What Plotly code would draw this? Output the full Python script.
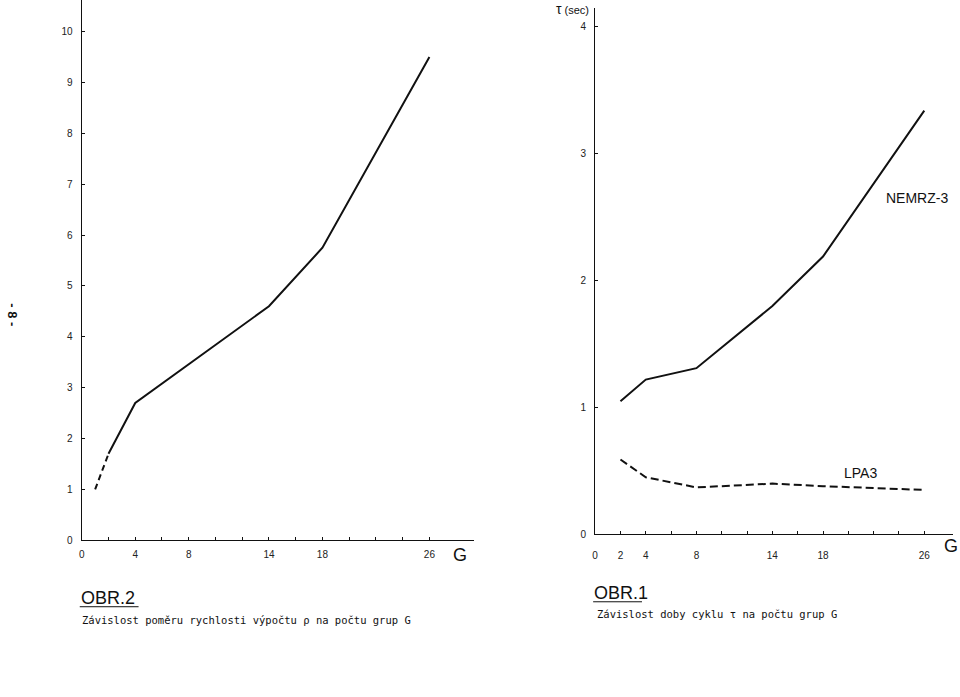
import plotly.graph_objects as go

# ---- data ----
# OBR.2 : ratio of computation speed vs number of groups G
g_ratio_dash = [1, 2]
ratio_dash = [1.0, 1.7]
g_ratio = [2, 4, 14, 18, 26]
ratio = [1.7, 2.7, 4.6, 5.75, 9.5]

# OBR.1 : cycle time tau (sec) vs number of groups G
g_cycle = [2, 4, 8, 14, 18, 26]
nemrz3 = [1.05, 1.22, 1.31, 1.80, 2.19, 3.34]
lpa3 = [0.59, 0.45, 0.37, 0.40, 0.38, 0.35]

x_tick_vals = list(range(0, 28, 2))
left_x_labels = {0: "0", 4: "4", 8: "8", 14: "14", 18: "18", 26: "26"}
right_x_labels = {0: "0", 2: "2", 4: "4", 8: "8", 14: "14", 18: "18", 26: "26"}
left_y_ticks = list(range(0, 11))
right_y_ticks = [0, 1, 2, 3, 4]

FONT = "Liberation Sans"
MONO = "DejaVu Sans Mono"
INK = "#111111"

fig = go.Figure()
fig.add_trace(go.Scatter(x=g_ratio_dash, y=ratio_dash, mode="lines",
                         line=dict(color=INK, width=2, dash="6px,4px"),
                         xaxis="x", yaxis="y", showlegend=False))
fig.add_trace(go.Scatter(x=g_ratio, y=ratio, mode="lines",
                         line=dict(color=INK, width=2),
                         xaxis="x", yaxis="y", showlegend=False))
fig.add_trace(go.Scatter(x=g_cycle, y=nemrz3, mode="lines",
                         line=dict(color=INK, width=2),
                         xaxis="x2", yaxis="y2", showlegend=False))
fig.add_trace(go.Scatter(x=g_cycle, y=lpa3, mode="lines",
                         line=dict(color=INK, width=2, dash="8px,4px"),
                         xaxis="x2", yaxis="y2", showlegend=False))

W, H = 960, 697

def px(x):
    return x / W

def py(y):
    return (H - y) / H

axis_common = dict(showgrid=False, zeroline=False, showline=True,
                   linecolor=INK, linewidth=1.3, ticks="inside", ticklen=3,
                   tickcolor=INK, tickfont=dict(family=FONT, size=10, color="#222"),
                   fixedrange=True)

fig.update_layout(
    width=W, height=H,
    margin=dict(l=0, r=0, t=0, b=0),
    paper_bgcolor="white", plot_bgcolor="white",
    font=dict(family=FONT, color=INK),
    xaxis=dict(domain=[px(79), px(472)], range=[0, 29.3], anchor="y",
               tickmode="array", tickvals=x_tick_vals,
               ticktext=[left_x_labels.get(v, "") for v in x_tick_vals],
               ticklabelstandoff=5, **axis_common),
    yaxis=dict(domain=[1 - 545 / H, 1.0], range=[0, 10.62], anchor="x",
               tickmode="array", tickvals=left_y_ticks,
               ticktext=[str(v) for v in left_y_ticks],
               ticklabelstandoff=6, **axis_common),
    xaxis2=dict(domain=[px(594), px(953)], range=[0, 28.27], anchor="y2",
                tickmode="array", tickvals=x_tick_vals,
                ticktext=[right_x_labels.get(v, "") for v in x_tick_vals],
                ticklabelstandoff=11, **axis_common),
    yaxis2=dict(domain=[1 - 539 / H, 1 - 8 / H], range=[0, 4.15], anchor="x2",
                tickmode="array", tickvals=right_y_ticks,
                ticktext=[str(v) for v in right_y_ticks],
                ticklabelstandoff=6, **axis_common),
)

def note(text, x, y, size, xanchor="center", yanchor="middle", xref="paper",
         yref="paper", family=FONT, **kw):
    return dict(text=text, xref=xref, yref=yref, x=x, y=y, xanchor=xanchor,
                yanchor=yanchor, showarrow=False,
                font=dict(family=family, size=size, color=INK), **kw)

ann = [
    note("NEMRZ-3", 25.4, 2.65, 14, xref="x2", yref="y2"),
    note("LPA3", 21.0, 0.48, 14, xref="x2", yref="y2"),
    note("G", px(458), py(560), 18),
    note("G", px(951), py(551), 18),
    note("<span style='font-size:14px'>τ</span> (sec)", px(589), 1.0, 11,
         xanchor="right", yanchor="top", borderpad=0),
    note("OBR.2", px(76), py(603), 18, xanchor="left"),
    note("Závislost poměru rychlosti výpočtu ρ na počtu grup G",
         px(77), py(625), 10.5, xanchor="left", family=MONO),
    note("OBR.1", px(591), py(598), 18, xanchor="left"),
    note("Závislost doby cyklu τ na počtu grup G",
         px(594), py(619), 10.5, xanchor="left", family=MONO),
    note("<b>- 8 -</b>", px(10), py(318), 13, textangle=90),
]
fig.update_layout(annotations=ann)

# underlines of the figure captions
fig.add_shape(type="line", xref="paper", yref="paper",
              x0=px(77), x1=px(136), y0=py(612), y1=py(612),
              line=dict(color=INK, width=1))
fig.add_shape(type="line", xref="paper", yref="paper",
              x0=px(592), x1=px(641), y0=py(607), y1=py(607),
              line=dict(color=INK, width=1))

fig.write_html("out.html")
